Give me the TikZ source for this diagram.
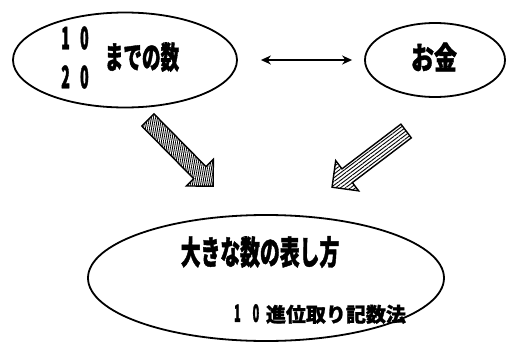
\documentclass[tikz,border=0pt]{standalone}
\usepackage{fontspec}
\newfontfamily\cjkA{Noto Sans CJK JP}[FakeStretch=0.6,FakeBold=1.2]
\newfontfamily\cjkB{Noto Sans CJK JP}[FakeStretch=0.74,FakeBold=1.2]
\newfontfamily\cjkC{Noto Sans CJK JP}[FakeStretch=1.0,FakeBold=1.2]
\newfontfamily\cjkD{Noto Sans CJK JP}[FakeStretch=0.45,FakeBold=1.2]
\usetikzlibrary{shapes.geometric,shapes.arrows,arrows.meta,patterns.meta}
\begin{document}
\begin{tikzpicture}[x=1pt,y=-1pt,
  oval/.style={draw,ellipse,line width=1.8pt,inner sep=0pt},
  lbl/.style={inner sep=0pt},
  blockarrow/.style={single arrow,draw,line width=1.4pt,inner sep=7pt,
     minimum height=93pt,minimum width=38pt,single arrow head extend=9pt}]
\path[fill=white] (0,0) rectangle (509,343);
\useasboundingbox (0,0) rectangle (509,343);
\node[oval,minimum width=224pt,minimum height=95pt] (e1) at (125,60) {};
\node[oval,minimum width=140pt,minimum height=74pt] (e2) at (435,60) {};
\node[oval,minimum width=356pt,minimum height=126pt] (e3) at (266,278) {};
\node[lbl,font=\cjkD\bfseries\fontsize{31}{31}\selectfont] (n10) at (75,38) {1\,\,0};
\node[lbl,font=\cjkD\bfseries\fontsize{31}{31}\selectfont] (n20) at (75,77) {2\,\,0};
\node[lbl,font=\cjkA\bfseries\fontsize{31}{31}\selectfont] (t1) at (142,57) {までの数};
\node[lbl,font=\cjkB\bfseries\fontsize{31}{31}\selectfont] (t2) at (434,57) {お金};
\node[lbl,font=\cjkA\bfseries\fontsize{33}{33}\selectfont] (t3) at (260,252) {大きな数の表し方};
\node[lbl,font=\cjkC\bfseries\fontsize{20}{20}\selectfont] (t4) at (320,314) {{\cjkD\fontsize{24}{24}\selectfont 1\,\,\,0}\,\,進位取り記数法};
\draw[line width=2pt,{Stealth[length=10pt,width=9pt]}-{Stealth[length=10pt,width=9pt]},
  shorten <=23pt,shorten >=12pt] (e1.east) -- (e2.west);
\node[blockarrow,rotate=-45.4,pattern={Lines[angle=80,distance=2pt,line width=0.9pt]}] (a1) at (177.5,150) {};
\node[blockarrow,rotate=217.2,pattern={Lines[angle=37,distance=3pt,line width=0.9pt]}] (a2) at (372.5,156.5) {};
\end{tikzpicture}
\end{document}
